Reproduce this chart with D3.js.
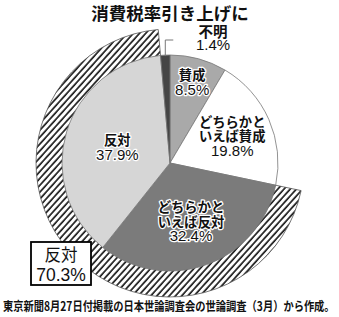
<!DOCTYPE html>
<html><head><meta charset="utf-8">
<script src="https://cdn.jsdelivr.net/npm/d3@7"></script>
<style>
html,body{margin:0;padding:0;background:#fff;}
svg{display:block;}
</style></head>
<body>
<svg id="c" width="339" height="317"></svg>
<script>
// ---- data ----
const title = "消費税率引き上げに";
const categories = ["賛成", "どちらかといえば賛成", "どちらかといえば反対", "反対", "不明"];
const labelLines = [["賛成"], ["どちらかと", "いえば賛成"], ["どちらかと", "いえば反対"], ["反対"], ["不明"]];
const values = [8.5, 19.8, 32.4, 37.9, 1.4];
const valueLabels = ["8.5%", "19.8%", "32.4%", "37.9%", "1.4%"];
const totalOppLabel = ["反対", "70.3%"];
const oppositionIdx = [2, 3];
const footer = "東京新聞8月27日付掲載の日本世論調査会の世論調査（3月）から作成。";

// ---- styles / layout ----
const colors = ["#a9a9a9", "#ffffff", "#7b7b7b", "#d6d6d6", "#454545"];
const labelR = [84, 68, 62, 55, null];
const cx = 170, cy = 163, R = 108, R2 = 134;
const cjk = "'Noto Sans CJK JP',sans-serif";
const num = "'Liberation Sans',Arial,sans-serif";

const svg = d3.select("#c");
const defs = svg.append("defs");
const pat = defs.append("pattern").attr("id", "hatch").attr("patternUnits", "userSpaceOnUse")
  .attr("width", 4.6).attr("height", 4.6).attr("patternTransform", "rotate(42)");
pat.append("rect").attr("width", 4.6).attr("height", 4.6).attr("fill", "#fff");
pat.append("line").attr("x1", 1).attr("y1", 0).attr("x2", 1).attr("y2", 4.6)
  .attr("stroke", "#000").attr("stroke-width", 1.5);

// title
svg.append("text").attr("x", cx).attr("y", 20).attr("text-anchor", "middle")
  .attr("font-family", cjk).attr("font-weight", 700)
  .attr("font-size", 17.5).attr("fill", "#111").text(title);

const g = svg.append("g").attr("transform", `translate(${cx},${cy})`);
const pie = d3.pie().sort(null).value(d => d);
const arcs = pie(values);
const arc = d3.arc().innerRadius(0).outerRadius(R);

// hatched outer ring for total opposition
const ring = d3.arc().innerRadius(R - 1).outerRadius(R2);
g.append("path")
  .attr("d", ring({startAngle: arcs[oppositionIdx[0]].startAngle, endAngle: arcs[oppositionIdx[1]].endAngle}))
  .attr("fill", "url(#hatch)").attr("stroke", "#555").attr("stroke-width", 0.8);

// slices
g.selectAll("path.slice").data(arcs).join("path").attr("class", "slice")
  .attr("d", arc).attr("fill", (d, i) => colors[i])
  .attr("stroke", "#777").attr("stroke-width", 0.8);

function halo(t) {
  return t.attr("fill", "#111").attr("stroke", "#fff").attr("stroke-width", 2.6)
    .attr("stroke-linejoin", "round").attr("paint-order", "stroke");
}

// slice labels
arcs.forEach((d, i) => {
  if (labelR[i] == null) return;
  const [x, y] = d3.arc().innerRadius(labelR[i]).outerRadius(labelR[i]).centroid(d);
  const lines = labelLines[i].concat([valueLabels[i]]);
  const n = lines.length;
  const t = halo(g.append("text").attr("text-anchor", "middle"));
  lines.forEach((s, k) => {
    const isNum = k === n - 1;
    t.append("tspan").attr("x", x).attr("y", y + (k - (n - 1) / 2) * 14.5 + 5.5)
      .attr("font-family", isNum ? num : cjk)
      .attr("font-weight", isNum ? 400 : 700)
      .attr("font-size", isNum ? 15 : 13.3).text(s);
  });
});

// 不明 label with leader
const um = arcs[4];
const umA = (um.startAngle + um.endAngle) / 2;
const ux = Math.sin(umA) * (R - 1), uy = -Math.cos(umA) * (R - 1);
g.append("polyline")
  .attr("points", [[ux, uy], [ux, -123], [ux + 8, -123]].map(p => p.join(",")).join(" "))
  .attr("fill", "none").attr("stroke", "#777").attr("stroke-width", 1);
const ut = g.append("text").attr("text-anchor", "middle").attr("fill", "#111");
ut.append("tspan").attr("x", 43).attr("y", -126).attr("font-family", cjk)
  .attr("font-weight", 700).attr("font-size", 14.5).text(labelLines[4][0]);
ut.append("tspan").attr("x", 43).attr("y", -113).attr("font-family", num)
  .attr("font-weight", 400).attr("font-size", 15).text(valueLabels[4]);

// total opposition box
const box = svg.append("g");
box.append("rect").attr("x", 31).attr("y", 242).attr("width", 60).attr("height", 43)
  .attr("fill", "#fff").attr("stroke", "#000").attr("stroke-width", 1.8);
const bt = box.append("text").attr("text-anchor", "middle").attr("fill", "#111");
bt.append("tspan").attr("x", 61).attr("y", 261).attr("font-family", cjk)
  .attr("font-weight", 400).attr("font-size", 16.5).text(totalOppLabel[0]);
bt.append("tspan").attr("x", 61).attr("y", 281).attr("font-family", num)
  .attr("font-weight", 400).attr("font-size", 17.5).text(totalOppLabel[1]);

// footer (horizontally condensed to fit the width, like the original)
const ft = svg.append("text").attr("x", 0).attr("y", 0)
  .attr("font-family", cjk).attr("font-weight", 700)
  .attr("font-size", 12.5).attr("fill", "#111").text(footer);
const natural = ft.node().getComputedTextLength();
ft.attr("transform", `translate(3,310.5) scale(${332 / natural},1)`);
</script>
</body></html>
